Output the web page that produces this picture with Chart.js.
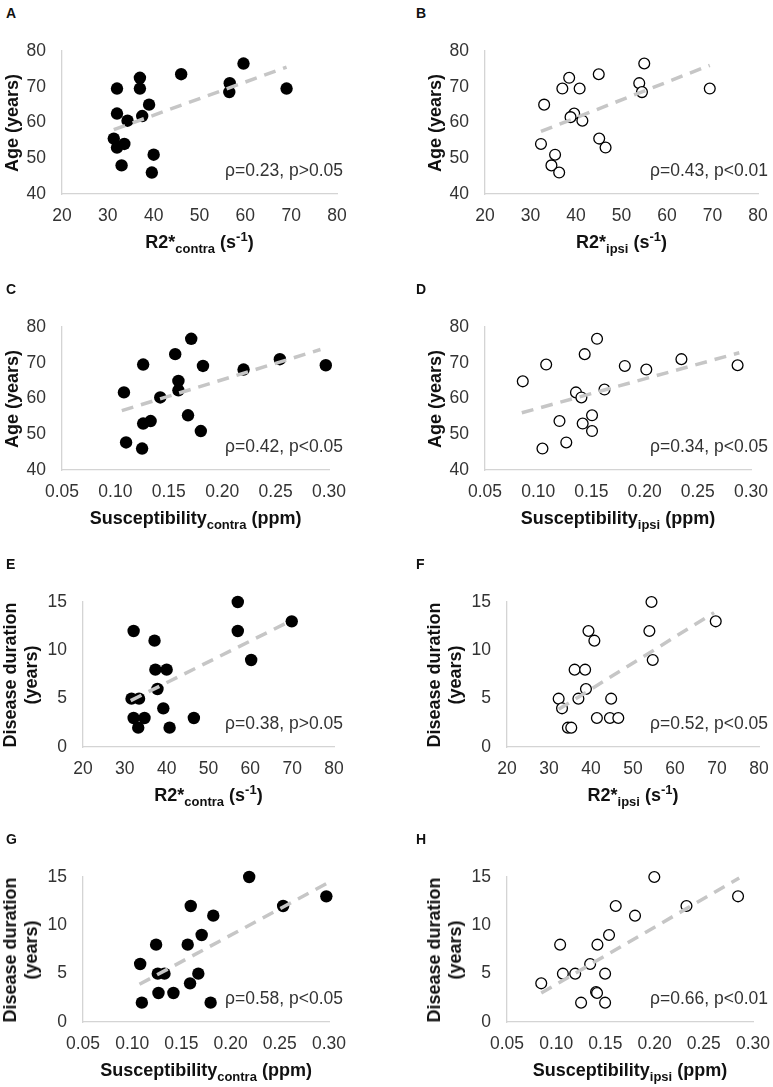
<!DOCTYPE html>
<html>
<head>
<meta charset="utf-8">
<script src="https://cdn.jsdelivr.net/npm/chart.js@4.4.1/dist/chart.umd.min.js"></script>
<style>
  body { margin: 0; background: #fff; font-family: "Liberation Sans", Arial, sans-serif; }
  #page { position: relative; width: 773px; height: 1087px; overflow: hidden; background: #fff; }
  canvas { position: absolute; }
  .letter { position: absolute; font-weight: bold; font-size: 14px; line-height: 16px; color: #111; }
  .xt { position: absolute; font-weight: bold; font-size: 18px; line-height: 22px; white-space: nowrap; color: #111; transform: translate(-50%, -50%); }
  .yt { position: absolute; font-weight: bold; font-size: 18px; line-height: 21px; white-space: nowrap; text-align: center; color: #111; transform: translate(-50%, -50%) rotate(-90deg); }
  .rho { position: absolute; font-size: 17.5px; line-height: 20px; white-space: nowrap; color: #333; transform: translate(-100%, -50%); }
  .sb { font-size: 13px; position: relative; top: 5px; }
  .sp { font-size: 13px; position: relative; top: -7px; }
</style>
</head>
<body>
<div id="page"></div>
<script>
// tick labels
const r2Ticks = [20, 30, 40, 50, 60, 70, 80];
const susTicks = [0.05, 0.10, 0.15, 0.20, 0.25, 0.30];
const ageTicks = [40, 50, 60, 70, 80];
const ddTicks = [0, 5, 10, 15];

// A: R2* contra vs age
const r2ContraAge = [32, 32, 31.3, 32, 33.6, 33, 34.3, 37, 37, 37.5, 39, 40, 39.6, 46, 56.6, 56.5, 59.6, 69];
const ageR2Contra = [69.5, 62.5, 55.5, 53, 54, 48, 60.5, 72.5, 69.5, 61.8, 65, 51, 46, 73.5, 71, 68.5, 76.5, 69.5];
const trendAx = [31.3, 69];
const trendAy = [58, 75.5];

// B: R2* ipsi vs age
const r2IpsiAge = [33, 32.3, 35.4, 34.6, 36.3, 37, 38.5, 40.8, 39.6, 38.8, 41.4, 45, 45.1, 46.5, 53.9, 54.5, 55, 69.4];
const ageR2Ipsi = [65, 54, 51, 48, 46, 69.5, 72.5, 69.5, 62.5, 61.5, 60.5, 73.5, 55.5, 53, 71, 68.5, 76.5, 69.5];
const trendBx = [32.3, 69.4];
const trendBy = [57.5, 76];

// C: susceptibility contra vs age
const susContraAge = [0.108, 0.110, 0.126, 0.126, 0.125, 0.133, 0.142, 0.156, 0.159, 0.159, 0.168, 0.171, 0.180, 0.182, 0.220, 0.254, 0.297];
const ageSusContra = [61.7, 47.7, 69.5, 53, 46, 53.7, 60.3, 72.4, 64.9, 62.3, 55.3, 76.7, 50.9, 69.1, 68.1, 71, 69.3];
const trendCx = [0.106, 0.292];
const trendCy = [56.6, 73.7];

// D: susceptibility ipsi vs age
const susIpsiAge = [0.0855, 0.104, 0.1075, 0.120, 0.1264, 0.1355, 0.1406, 0.1418, 0.1437, 0.1506, 0.1506, 0.1553, 0.1623, 0.1814, 0.2016, 0.2346, 0.2874];
const ageSusIpsi = [64.8, 46, 69.5, 53.7, 47.7, 61.7, 60.3, 53, 72.4, 55.3, 50.9, 76.7, 62.5, 69.1, 68.1, 71, 69.3];
const trendDx = [0.0846, 0.289];
const trendDy = [56, 72.8];

// E: R2* contra vs disease duration
const r2ContraDD = [32.1, 31.6, 33.4, 32.1, 34.7, 33.2, 37.1, 37.3, 40, 37.8, 39.2, 40.7, 46.5, 57, 57, 60.2, 69.9];
const ddR2Contra = [12, 5, 5, 3, 3, 2, 11, 8, 8, 6, 4, 2, 3, 15, 12, 9, 13];
const trendEx = [31.4, 69.9];
const trendEy = [4.8, 13.1];

// F: R2* ipsi vs disease duration
const r2IpsiDD = [32.3, 33.1, 34.5, 35.3, 36.1, 38.6, 37, 38.8, 39.4, 40.8, 41.4, 44.8, 44.5, 46.5, 54.4, 53.9, 54.7, 69.7];
const ddR2Ipsi = [5, 4, 2, 2, 8, 8, 5, 6, 12, 11, 3, 5, 3, 3, 15, 12, 9, 13];
const trendFx = [32.3, 69.3];
const trendFy = [3.9, 13.9];

// G: susceptibility contra vs disease duration
const susContraDD = [0.1081, 0.1098, 0.1243, 0.126, 0.1328, 0.1267, 0.1419, 0.1564, 0.1588, 0.1595, 0.1672, 0.1706, 0.1824, 0.1797, 0.2189, 0.2534, 0.2973];
const ddSusContra = [6, 2, 8, 5, 5, 3, 3, 8, 4, 12, 5, 9, 11, 2, 15, 12, 13];
const trendGx = [0.1074, 0.299];
const trendGy = [3.9, 14.4];

// H: susceptibility ipsi vs disease duration
const susIpsiDD = [0.0848, 0.104, 0.1068, 0.1193, 0.1253, 0.1345, 0.1405, 0.1415, 0.1419, 0.1497, 0.1497, 0.1537, 0.1605, 0.1801, 0.1997, 0.2324, 0.2848];
const ddSusIpsi = [4, 8, 5, 5, 2, 6, 3.1, 3, 8, 5, 2, 9, 12, 11, 15, 12, 13];
const trendHx = [0.0848, 0.286];
const trendHy = [3.0, 14.9];

const r2ContraTitle = 'R2*<span class="sb">contra</span> (s<span class="sp">-1</span>)';
const r2IpsiTitle = 'R2*<span class="sb">ipsi</span> (s<span class="sp">-1</span>)';
const susContraTitle = 'Susceptibility<span class="sb">contra</span> (ppm)';
const susIpsiTitle = 'Susceptibility<span class="sb">ipsi</span> (ppm)';

// box = [plot left, plot right, plot top, plot bottom]
const panels = [
  { id: 'A', x: r2ContraAge, y: ageR2Contra, tx: trendAx, ty: trendAy, open: false, xt: r2Ticks, yt: ageTicks,
    box: [62, 337, 51, 194], letter: [6, 5], xTitle: r2ContraTitle, yTitle: ['Age (years)'], rho: 'ρ=0.23, p>0.05' },
  { id: 'B', x: r2IpsiAge, y: ageR2Ipsi, tx: trendBx, ty: trendBy, open: true, xt: r2Ticks, yt: ageTicks,
    box: [485, 758, 51, 194], letter: [416, 5], xTitle: r2IpsiTitle, yTitle: ['Age (years)'], rho: 'ρ=0.43, p<0.01' },
  { id: 'C', x: susContraAge, y: ageSusContra, tx: trendCx, ty: trendCy, open: false, xt: susTicks, yt: ageTicks,
    box: [62, 329, 327, 470], letter: [6, 281], xTitle: susContraTitle, yTitle: ['Age (years)'], rho: 'ρ=0.42, p<0.05' },
  { id: 'D', x: susIpsiAge, y: ageSusIpsi, tx: trendDx, ty: trendDy, open: true, xt: susTicks, yt: ageTicks,
    box: [485, 751, 327, 470], letter: [416, 281], xTitle: susIpsiTitle, yTitle: ['Age (years)'], rho: 'ρ=0.34, p<0.05' },
  { id: 'E', x: r2ContraDD, y: ddR2Contra, tx: trendEx, ty: trendEy, open: false, xt: r2Ticks, yt: ddTicks,
    box: [83, 334, 602, 747], letter: [6, 556], xTitle: r2ContraTitle, yTitle: ['Disease duration', '(years)'], rho: 'ρ=0.38, p>0.05' },
  { id: 'F', x: r2IpsiDD, y: ddR2Ipsi, tx: trendFx, ty: trendFy, open: true, xt: r2Ticks, yt: ddTicks,
    box: [507, 759, 602, 747], letter: [416, 556], xTitle: r2IpsiTitle, yTitle: ['Disease duration', '(years)'], rho: 'ρ=0.52, p<0.05' },
  { id: 'G', x: susContraDD, y: ddSusContra, tx: trendGx, ty: trendGy, open: false, xt: susTicks, yt: ddTicks,
    box: [83, 329, 877, 1022], letter: [6, 831], xTitle: susContraTitle, yTitle: ['Disease duration', '(years)'], rho: 'ρ=0.58, p<0.05' },
  { id: 'H', x: susIpsiDD, y: ddSusIpsi, tx: trendHx, ty: trendHy, open: true, xt: susTicks, yt: ddTicks,
    box: [507, 753, 877, 1022], letter: [416, 831], xTitle: susIpsiTitle, yTitle: ['Disease duration', '(years)'], rho: 'ρ=0.66, p<0.01' },
];

const page = document.getElementById('page');
const FONT = '"Liberation Sans", Arial, sans-serif';

function addDiv(cls, html, left, top) {
  const d = document.createElement('div');
  d.className = cls;
  d.innerHTML = html;
  d.style.left = left + 'px';
  d.style.top = top + 'px';
  page.appendChild(d);
  return d;
}

function fmtTick(ticks) {
  const dec = ticks.some((v) => v % 1 !== 0) ? 2 : 0;
  return (v) => Number(v).toFixed(dec);
}

function drawPanel(p) {
  const [l, r, t, b] = p.box;
  const padL = 60, padT = 16, padR = 24, padB = 40;

  const canvas = document.createElement('canvas');
  canvas.width = r - l + padL + padR;
  canvas.height = b - t + padT + padB;
  canvas.style.left = (l - padL) + 'px';
  canvas.style.top = (t - padT) + 'px';
  page.appendChild(canvas);

  const xf = fmtTick(p.xt);
  const yf = fmtTick(p.yt);

  new Chart(canvas, {
    type: 'scatter',
    data: {
      datasets: [
        {
          type: 'line',
          data: p.tx.map((v, i) => ({ x: v, y: p.ty[i] })),
          borderColor: '#c6c6c6',
          borderWidth: 3.5,
          borderDash: [12, 8],
          pointRadius: 0,
          fill: false,
          clip: false,
        },
        {
          data: p.x.map((v, i) => ({ x: v, y: p.y[i] })),
          pointRadius: p.open ? 5.4 : 6.2,
          pointHoverRadius: p.open ? 5.4 : 6.2,
          backgroundColor: p.open ? '#fff' : '#000',
          borderColor: '#000',
          borderWidth: p.open ? 1.3 : 0,
          clip: false,
        },
      ],
    },
    options: {
      responsive: false,
      animation: false,
      devicePixelRatio: 1,
      layout: { padding: { left: 0, top: padT, right: padR, bottom: 0 } },
      plugins: { legend: { display: false }, tooltip: { enabled: false } },
      scales: {
        x: {
          type: 'linear',
          min: p.xt[0],
          max: p.xt[p.xt.length - 1],
          afterBuildTicks: (s) => { s.ticks = p.xt.map((v) => ({ value: v })); },
          afterFit: (s) => { s.height = padB; s.paddingLeft = 0; s.paddingRight = 0; },
          grid: { display: false, drawTicks: false },
          border: { display: true, color: '#d4d4d4', width: 1.3 },
          ticks: { padding: 12, color: '#333', maxRotation: 0, autoSkip: false,
                   font: { size: 17.5, family: FONT }, callback: xf },
        },
        y: {
          type: 'linear',
          min: p.yt[0],
          max: p.yt[p.yt.length - 1],
          afterBuildTicks: (s) => { s.ticks = p.yt.map((v) => ({ value: v })); },
          afterFit: (s) => { s.width = padL; s.paddingTop = 0; s.paddingBottom = 0; },
          grid: { display: false, drawTicks: false },
          border: { display: true, color: '#d4d4d4', width: 1.3 },
          ticks: { padding: 16, color: '#333', autoSkip: false,
                   font: { size: 17.5, family: FONT }, callback: yf },
        },
      },
    },
  });

  // panel letter, axis titles and correlation note
  addDiv('letter', p.id, p.letter[0], p.letter[1]);
  addDiv('xt', p.xTitle, (l + r) / 2, b + 49);
  const yOff = p.yTitle.length > 1 ? 62 : 50;
  addDiv('yt', p.yTitle.join('<br>'), l - yOff, (t + b) / 2);
  addDiv('rho', p.rho, l < 200 ? 343 : 768, b - 24);
}

panels.forEach(drawPanel);
</script>
</body>
</html>
